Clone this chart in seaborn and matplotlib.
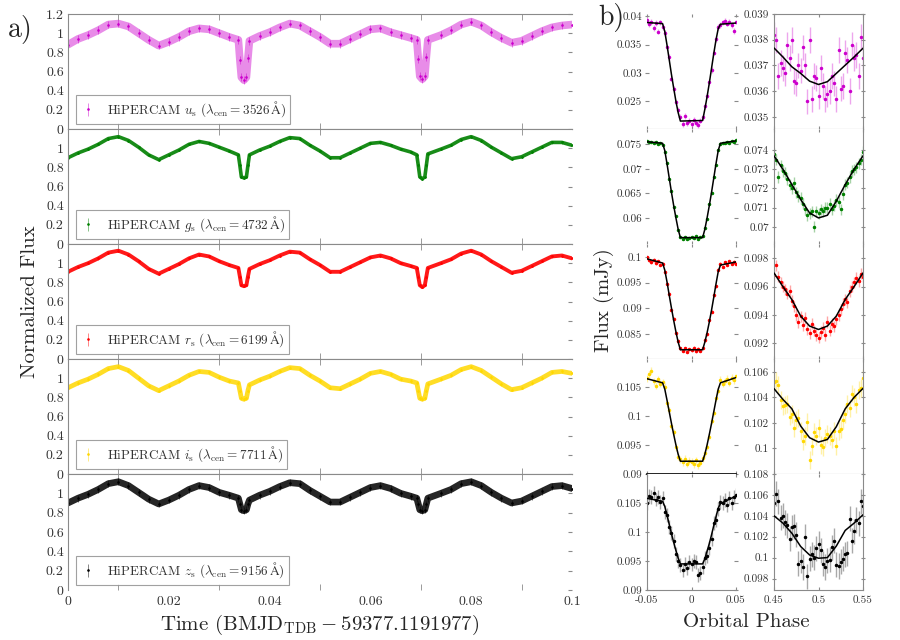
import numpy as np
import pandas as pd
import matplotlib
matplotlib.use("Agg")
import matplotlib.pyplot as plt
from matplotlib.ticker import FuncFormatter, FixedLocator
from matplotlib.colors import to_rgba
import seaborn as sns

# ------------------------------------------------------------------ data
bands = ["u", "g", "r", "i", "z"]
band_wave = [3526, 4732, 6199, 7711, 9156]
band_colors = ["#cc00cc", "#008000", "#ff0000", "#ffd700", "#000000"]

# panel a) normalised light curves
time = [0.000, 0.002, 0.004, 0.006, 0.008, 0.010, 0.012, 0.014, 0.016, 0.018, 0.020, 0.022, 0.024, 0.026, 0.028, 0.030, 0.032,
        0.0338, 0.0341, 0.0344, 0.0349, 0.0354, 0.0357, 0.0360,
        0.038, 0.040, 0.042, 0.044, 0.046, 0.048, 0.050, 0.052, 0.054, 0.056, 0.058, 0.060, 0.062, 0.064, 0.066, 0.068,
        0.0692, 0.0695, 0.0698, 0.0703, 0.0708, 0.0711, 0.0714,
        0.074, 0.076, 0.078, 0.080, 0.082, 0.084, 0.086, 0.088, 0.090, 0.092, 0.094, 0.096, 0.098, 0.100]
lc_u = [0.88, 0.94, 0.98, 1.03, 1.09, 1.10, 1.07, 1.00, 0.93, 0.87, 0.91, 0.96, 1.02, 1.05, 1.04, 1.00, 0.96,
        0.93, 0.72, 0.54, 0.51, 0.54, 0.74, 0.92,
        0.97, 1.01, 1.06, 1.10, 1.08, 1.02, 0.96, 0.89, 0.89, 0.94, 0.99, 1.04, 1.05, 1.01, 0.98, 0.95,
        0.93, 0.73, 0.55, 0.52, 0.55, 0.75, 0.93,
        0.98, 1.03, 1.09, 1.12, 1.08, 1.01, 0.95, 0.90, 0.92, 0.97, 1.02, 1.06, 1.08, 1.09]
lc_g = [0.90, 0.95, 0.99, 1.04, 1.10, 1.12, 1.08, 1.01, 0.93, 0.88, 0.93, 0.98, 1.04, 1.07, 1.05, 1.01, 0.97,
        0.93, 0.82, 0.70, 0.69, 0.70, 0.82, 0.93,
        0.98, 1.02, 1.07, 1.11, 1.10, 1.03, 0.97, 0.90, 0.90, 0.95, 1.00, 1.05, 1.06, 1.03, 0.99, 0.96,
        0.93, 0.82, 0.70, 0.68, 0.70, 0.82, 0.94,
        0.99, 1.03, 1.09, 1.12, 1.08, 1.01, 0.95, 0.89, 0.91, 0.96, 1.01, 1.06, 1.06, 1.03]
lc_r = [0.91, 0.96, 1.00, 1.05, 1.11, 1.13, 1.09, 1.02, 0.94, 0.89, 0.94, 0.99, 1.05, 1.09, 1.07, 1.02, 0.98,
        0.95, 0.86, 0.77, 0.76, 0.77, 0.86, 0.94,
        0.99, 1.03, 1.08, 1.12, 1.11, 1.04, 0.98, 0.91, 0.91, 0.96, 1.01, 1.06, 1.08, 1.05, 1.00, 0.97,
        0.95, 0.86, 0.77, 0.75, 0.77, 0.86, 0.95,
        1.00, 1.04, 1.10, 1.13, 1.09, 1.02, 0.96, 0.90, 0.92, 0.97, 1.02, 1.07, 1.08, 1.05]
lc_i = [0.90, 0.95, 0.99, 1.04, 1.10, 1.12, 1.08, 1.00, 0.92, 0.87, 0.92, 0.97, 1.03, 1.07, 1.06, 1.01, 0.97,
        0.95, 0.87, 0.79, 0.78, 0.79, 0.87, 0.93,
        0.98, 1.02, 1.07, 1.11, 1.10, 1.03, 0.97, 0.90, 0.89, 0.94, 0.99, 1.05, 1.07, 1.04, 0.99, 0.97,
        0.95, 0.87, 0.79, 0.78, 0.79, 0.87, 0.94,
        0.99, 1.03, 1.09, 1.12, 1.08, 1.01, 0.94, 0.88, 0.90, 0.95, 1.00, 1.06, 1.07, 1.05]
lc_z = [0.90, 0.95, 0.99, 1.04, 1.10, 1.12, 1.08, 1.01, 0.94, 0.89, 0.93, 0.98, 1.04, 1.08, 1.06, 1.01, 0.98,
        0.95, 0.89, 0.83, 0.82, 0.83, 0.89, 0.93,
        0.98, 1.02, 1.07, 1.11, 1.10, 1.03, 0.97, 0.91, 0.91, 0.96, 1.01, 1.06, 1.08, 1.05, 1.00, 0.97,
        0.95, 0.89, 0.83, 0.82, 0.83, 0.89, 0.95,
        1.00, 1.04, 1.10, 1.12, 1.08, 1.01, 0.95, 0.90, 0.92, 0.97, 1.02, 1.07, 1.08, 1.05]
lc_err = [0.04, 0.012, 0.012, 0.018, 0.035]

# panel b) primary eclipse (mJy)
ecl_phase = [-0.05, -0.0475, -0.045, -0.0425, -0.04, -0.0375, -0.035, -0.0325, -0.03, -0.0275, -0.025, -0.0225, -0.02,
             -0.0175, -0.015, -0.0125, -0.01, -0.0075, -0.005, -0.0025, 0.0, 0.0025, 0.005, 0.0075, 0.01, 0.0125, 0.015,
             0.0175, 0.02, 0.0225, 0.025, 0.0275, 0.03, 0.0325, 0.035, 0.0375, 0.04, 0.0425, 0.045, 0.0475, 0.05]
ecl_u = [0.0393, 0.0386, 0.0390, 0.0379, 0.0388, 0.0373, 0.0389, 0.0381, 0.0370, 0.0345, 0.0328, 0.0290, 0.0272, 0.0248,
         0.0235, 0.0222, 0.0210, 0.0224, 0.0211, 0.0216, 0.0209, 0.0217, 0.0212, 0.0208, 0.0216, 0.0222, 0.0242, 0.0260,
         0.0284, 0.0305, 0.0336, 0.0360, 0.0381, 0.0385, 0.0389, 0.0392, 0.0387, 0.0390, 0.0384, 0.0374, 0.0389]
ecl_g = [0.0756, 0.0754, 0.0755, 0.0752, 0.0754, 0.0751, 0.0753, 0.0749, 0.0735, 0.0712, 0.0679, 0.0655, 0.0622, 0.0603,
         0.0575, 0.0562, 0.0558, 0.0561, 0.0557, 0.0560, 0.0562, 0.0559, 0.0563, 0.0558, 0.0561, 0.0563, 0.0580, 0.0598,
         0.0628, 0.0650, 0.0684, 0.0708, 0.0739, 0.0750, 0.0753, 0.0752, 0.0754, 0.0753, 0.0756, 0.0755, 0.0758]
ecl_r = [0.0999, 0.0993, 0.0990, 0.0994, 0.0988, 0.0991, 0.0985, 0.0987, 0.0970, 0.0948, 0.0928, 0.0897, 0.0879, 0.0851,
         0.0836, 0.0822, 0.0817, 0.0822, 0.0815, 0.0820, 0.0818, 0.0823, 0.0816, 0.0821, 0.0817, 0.0823, 0.0838, 0.0849,
         0.0876, 0.0893, 0.0925, 0.0943, 0.0975, 0.0986, 0.0981, 0.0989, 0.0985, 0.0991, 0.0987, 0.0990, 0.0986]
ecl_i = [0.1065, 0.1072, 0.1078, 0.1060, 0.1052, 0.1063, 0.1055, 0.1058, 0.1050, 0.1022, 0.1010, 0.0983, 0.0972, 0.0946,
         0.0930, 0.0925, 0.0920, 0.0926, 0.0918, 0.0923, 0.0921, 0.0917, 0.0924, 0.0915, 0.0919, 0.0927, 0.0936, 0.0947,
         0.0964, 0.0992, 0.1005, 0.1031, 0.1043, 0.1062, 0.1055, 0.1060, 0.1064, 0.1057, 0.1066, 0.1061, 0.1068]
ecl_z = [0.1050, 0.1062, 0.1060, 0.1068, 0.1056, 0.1061, 0.1052, 0.1058, 0.1035, 0.1030, 0.1008, 0.0999, 0.0985, 0.0962,
         0.0950, 0.0943, 0.0935, 0.0945, 0.0938, 0.0948, 0.0944, 0.0950, 0.0948, 0.0926, 0.0929, 0.0940, 0.0955, 0.0958,
         0.0973, 0.0988, 0.1016, 0.1021, 0.1040, 0.1052, 0.1050, 0.1055, 0.1047, 0.1058, 0.1050, 0.1060, 0.1064]
ecl_err = [0.0005, 0.0002, 0.0003, 0.0006, 0.0012]

ecl_model_phase = [-0.05, -0.0325, -0.03, -0.0275, -0.025, -0.0225, -0.02, -0.0175, -0.015, -0.0125,
                   0.0125, 0.015, 0.0175, 0.02, 0.0225, 0.025, 0.0275, 0.03, 0.0325, 0.05]
ecl_model_u = [0.0389, 0.0387, 0.0373, 0.0349, 0.0323, 0.0297, 0.0273, 0.0250, 0.0230, 0.0215,
               0.0216, 0.0236, 0.0258, 0.0282, 0.0308, 0.0334, 0.0358, 0.0378, 0.0386, 0.0388]
ecl_model_g = [0.0755, 0.0752, 0.0737, 0.0710, 0.0681, 0.0652, 0.0625, 0.0600, 0.0577, 0.0560,
               0.0560, 0.0577, 0.0600, 0.0625, 0.0652, 0.0681, 0.0710, 0.0737, 0.0752, 0.0757]
ecl_model_r = [0.0996, 0.0988, 0.0974, 0.0951, 0.0925, 0.0900, 0.0876, 0.0854, 0.0834, 0.0819,
               0.0819, 0.0834, 0.0852, 0.0873, 0.0896, 0.0921, 0.0947, 0.0971, 0.0984, 0.0990]
ecl_model_i = [0.1064, 0.1057, 0.1046, 0.1027, 0.1007, 0.0987, 0.0968, 0.0950, 0.0934, 0.0922,
               0.0922, 0.0934, 0.0950, 0.0968, 0.0987, 0.1007, 0.1027, 0.1046, 0.1057, 0.1066]
ecl_model_z = [0.1058, 0.1053, 0.1044, 0.1029, 0.1013, 0.0997, 0.0982, 0.0968, 0.0955, 0.0945,
               0.0945, 0.0954, 0.0967, 0.0980, 0.0995, 0.1011, 0.1026, 0.1041, 0.1049, 0.1062]

# panel b) phase 0.5 (mJy)
sec_phase = [0.45, 0.4525, 0.455, 0.4575, 0.46, 0.4625, 0.465, 0.4675, 0.47, 0.4725, 0.475, 0.4775, 0.48, 0.4825,
             0.485, 0.4875, 0.49, 0.4925, 0.495, 0.4975, 0.5, 0.5025, 0.505, 0.5075, 0.51, 0.5125, 0.515, 0.5175,
             0.52, 0.5225, 0.525, 0.5275, 0.53, 0.5325, 0.535, 0.5375, 0.54, 0.5425, 0.545, 0.5475, 0.55]
sec_u = [0.0382, 0.0380, 0.0366, 0.0371, 0.0369, 0.0367, 0.0378, 0.0373, 0.0380, 0.0364, 0.0363, 0.0370, 0.0368, 0.0377,
         0.0370, 0.0356, 0.0380, 0.0357, 0.0366, 0.0365, 0.0358, 0.0369, 0.0362, 0.0357, 0.0359, 0.0360, 0.0366, 0.0363,
         0.0357, 0.0376, 0.0361, 0.0362, 0.0375, 0.0372, 0.0360, 0.0378, 0.0373, 0.0374, 0.0366, 0.0381, 0.0373]
sec_g = [0.0738, 0.0735, 0.0726, 0.0732, 0.0729, 0.0728, 0.0725, 0.0722, 0.0720, 0.0723, 0.0718, 0.0716, 0.0715, 0.0712,
         0.0709, 0.0706, 0.0707, 0.0708, 0.0700, 0.0708, 0.0707, 0.0709, 0.0708, 0.0710, 0.0710, 0.0712, 0.0709, 0.0711,
         0.0714, 0.0713, 0.0709, 0.0717, 0.0722, 0.0723, 0.0726, 0.0729, 0.0730, 0.0731, 0.0733, 0.0735, 0.0739]
sec_r = [0.0968, 0.0975, 0.0967, 0.0963, 0.0960, 0.0958, 0.0955, 0.0957, 0.0950, 0.0946, 0.0940, 0.0935, 0.0939, 0.0933,
         0.0938, 0.0930, 0.0927, 0.0934, 0.0929, 0.0926, 0.0924, 0.0928, 0.0931, 0.0926, 0.0935, 0.0929, 0.0934, 0.0932,
         0.0937, 0.0940, 0.0944, 0.0948, 0.0951, 0.0949, 0.0957, 0.0960, 0.0963, 0.0966, 0.0964, 0.0969, 0.0967]
sec_i = [0.1052, 0.1053, 0.1050, 0.1038, 0.1033, 0.1034, 0.1035, 0.1025, 0.1027, 0.1016, 0.1022, 0.1024, 0.1014, 0.1006,
         0.1010, 0.1021, 0.0991, 0.1002, 0.1013, 0.1010, 0.1016, 0.1003, 0.1001, 0.1008, 0.1011, 0.1010, 0.1007, 0.1014,
         0.1002, 0.1014, 0.1015, 0.1022, 0.1027, 0.1035, 0.1032, 0.1043, 0.1040, 0.1035, 0.1046, 0.1047, 0.1055]
sec_z = [0.1052, 0.1061, 0.1054, 0.1038, 0.1040, 0.1034, 0.1031, 0.1018, 0.1029, 0.1030, 0.1022, 0.0994, 0.0997, 0.0991,
         0.1020, 0.0982, 0.0999, 0.1003, 0.1000, 0.1009, 0.1013, 0.1007, 0.0994, 0.0991, 0.0997, 0.0998, 0.1010, 0.1016,
         0.0993, 0.0992, 0.0996, 0.0999, 0.1003, 0.1004, 0.1037, 0.1016, 0.1025, 0.1036, 0.1033, 0.1054, 0.1049]
sec_err = [0.0005, 0.0003, 0.0004, 0.0007, 0.0012]

sec_model_phase = [0.45, 0.46, 0.47, 0.48, 0.49, 0.50, 0.51, 0.52, 0.53, 0.54, 0.55]
sec_model_u = [0.03768, 0.03733, 0.03695, 0.03669, 0.03639, 0.03626, 0.03637, 0.03669, 0.03701, 0.03733, 0.03767]
sec_model_g = [0.0737, 0.0730, 0.07221, 0.07142, 0.07072, 0.07046, 0.0706, 0.07133, 0.0722, 0.0730, 0.0737]
sec_model_r = [0.09696, 0.0960, 0.09509, 0.09392, 0.09322, 0.09298, 0.09322, 0.09392, 0.09509, 0.0960, 0.09696]
sec_model_i = [0.10468, 0.10384, 0.10311, 0.10175, 0.10084, 0.1005, 0.1007, 0.1017, 0.1031, 0.1040, 0.1047]
sec_model_z = [0.1040, 0.1033, 0.10234, 0.10106, 0.10025, 0.09994, 0.1000, 0.1011, 0.1026, 0.1033, 0.1041]

lc_all = [lc_u, lc_g, lc_r, lc_i, lc_z]
ecl_all = [ecl_u, ecl_g, ecl_r, ecl_i, ecl_z]
ecl_model_all = [ecl_model_u, ecl_model_g, ecl_model_r, ecl_model_i, ecl_model_z]
sec_all = [sec_u, sec_g, sec_r, sec_i, sec_z]
sec_model_all = [sec_model_u, sec_model_g, sec_model_r, sec_model_i, sec_model_z]

ecl_ylim = [(0.0201, 0.0404), (0.0547, 0.0781), (0.0801, 0.1025), (0.0900, 0.1098), (0.0900, 0.1100)]
ecl_yticks = [[0.025, 0.03, 0.035, 0.04], [0.06, 0.065, 0.07, 0.075], [0.085, 0.09, 0.095, 0.1],
              [0.09, 0.095, 0.1, 0.105], [0.09, 0.095, 0.1, 0.105]]
sec_ylim = [(0.03453, 0.0390), (0.0691, 0.0751), (0.0909, 0.0990), (0.0980, 0.1070), (0.0969, 0.1080)]
sec_yticks = [[0.035, 0.036, 0.037, 0.038, 0.039], [0.07, 0.071, 0.072, 0.073, 0.074], [0.092, 0.094, 0.096, 0.098],
              [0.1, 0.102, 0.104, 0.106], [0.098, 0.1, 0.102, 0.104, 0.106, 0.108]]

# ------------------------------------------------------------------ style
sns.set_style("ticks")
plt.rcParams["font.family"] = ["cmr10", "DejaVu Serif"]
plt.rcParams["mathtext.fontset"] = "cm"
plt.rcParams["axes.unicode_minus"] = False

SPINE = "#8a8a8a"
TXT = "#333333"
fmt = FuncFormatter(lambda v, p: "%g" % round(v, 6))

W, H = 900, 640
fig = plt.figure(figsize=(W / 100, H / 100), dpi=100)


def px_axes(x0, y0, x1, y1):
    return fig.add_axes([x0 / W, 1 - y1 / H, (x1 - x0) / W, (y1 - y0) / H])


rows = [14, 129, 244, 359, 474, 590]
band_lw = [5.5, 2.6, 2.8, 3.4, 4.8]
band_alpha = [0.45, 0.9, 0.9, 0.85, 0.85]

# ------------------------------------------------------------------ panel a
for k, b in enumerate(bands):
    c = band_colors[k]
    ax = px_axes(68, rows[k], 572, rows[k + 1])
    df = pd.DataFrame({"t": time, "f": lc_all[k]})
    sns.lineplot(data=df, x="t", y="f", color=c, lw=band_lw[k], alpha=band_alpha[k],
                 estimator=None, sort=False, ax=ax)
    label = r"HiPERCAM $%s_\mathrm{s}$ ($\lambda_\mathrm{cen}=%d\,\mathrm{Å}$)" % (b, band_wave[k])
    ax.errorbar(time, lc_all[k], yerr=lc_err[k], fmt="o", ms=0.9, color=c,
                ecolor=to_rgba(c, 0.55), elinewidth=0.6, capsize=0, label=label)
    ax.set_xlim(0, 0.1)
    ax.set_ylim(0, 1.2)
    ax.set_xlabel("")
    ax.set_ylabel("")
    ax.set_yticks([0, 0.2, 0.4, 0.6, 0.8, 1.0, 1.2] if k == 0 else [0, 0.2, 0.4, 0.6, 0.8, 1.0])
    ax.yaxis.set_major_formatter(fmt)
    ax.tick_params(axis="y", left=False, right=True, labelleft=True, labelright=False,
                   direction="in", length=3, color=SPINE, labelsize=10, labelcolor=TXT, pad=3)
    ax.set_xticks([0, 0.02, 0.04, 0.06, 0.08, 0.1])
    ax.xaxis.set_major_formatter(fmt)
    ax.xaxis.set_minor_locator(FixedLocator([0.01, 0.03, 0.05, 0.06, 0.07, 0.09]))
    ax.tick_params(axis="x", which="major", length=0, labelsize=10, labelcolor=TXT,
                   labelbottom=(k == 4), pad=4)
    ax.tick_params(axis="x", which="minor", top=True, bottom=True, direction="in",
                   length=4, color=SPINE)
    for s in ax.spines.values():
        s.set_color(SPINE)
        s.set_linewidth(0.8)
    ax.spines["right"].set_visible(False)
    if k == 4:
        ax.spines["bottom"].set_visible(False)
    leg = ax.legend(loc="lower left", bbox_to_anchor=(0.015, 0.045), frameon=True, fancybox=False,
                    edgecolor=SPINE, fontsize=9.5, handlelength=1.2, handletextpad=0.8,
                    borderpad=0.35, borderaxespad=0.0)
    leg.get_frame().set_linewidth(0.8)
    for t in leg.get_texts():
        t.set_color(TXT)

# ------------------------------------------------------------------ panel b
for k, b in enumerate(bands):
    c = band_colors[k]
    ecol = to_rgba(c, 0.35) if k != 4 else to_rgba("#555555", 0.5)
    for col in range(2):
        if col == 0:
            ax = px_axes(647, rows[k], 736, rows[k + 1])
            ph, fl, err = ecl_phase, ecl_all[k], ecl_err[k]
            mph, mfl = ecl_model_phase, ecl_model_all[k]
            xlim, ylim, yt, xt = (-0.05, 0.05), ecl_ylim[k], ecl_yticks[k], [-0.05, 0, 0.05]
        else:
            ax = px_axes(774, rows[k], 863, rows[k + 1])
            ph, fl, err = sec_phase, sec_all[k], sec_err[k]
            mph, mfl = sec_model_phase, sec_model_all[k]
            xlim, ylim, yt, xt = (0.45, 0.55), sec_ylim[k], sec_yticks[k], [0.45, 0.5, 0.55]
        ax.errorbar(ph, fl, yerr=err, fmt="o", ms=1.5, color=c, ecolor=ecol,
                    elinewidth=1.0, capsize=0, zorder=2)
        sns.lineplot(x=mph, y=mfl, color="black", lw=1.1, estimator=None, sort=False, ax=ax, zorder=3)
        ax.set_xlim(*xlim)
        ax.set_ylim(*ylim)
        ax.set_xlabel("")
        ax.set_ylabel("")
        ax.set_yticks(yt)
        ax.yaxis.set_major_formatter(fmt)
        ax.set_xticks(xt)
        ax.xaxis.set_major_formatter(fmt)
        ax.tick_params(axis="y", left=True, right=True, direction="inout", length=3,
                       color=SPINE, labelsize=8, labelcolor=TXT, pad=2)
        ax.tick_params(axis="x", top=True, bottom=True, direction="in", length=2.5,
                       color=SPINE, labelsize=8, labelcolor=TXT, labelbottom=(k == 4), pad=4)
        for s in ax.spines.values():
            s.set_color(SPINE)
            s.set_linewidth(0.8)
        if col == 0:
            ax.spines["top"].set_visible(False)
            ax.spines["right"].set_visible(False)
            ax.spines["left"].set_visible(k == 4)
            ax.spines["bottom"].set_visible(k != 1)
            if k == 3:
                ax.spines["bottom"].set_color("black")
                ax.spines["bottom"].set_linewidth(1.2)
        else:
            ax.spines["top"].set_visible(k == 0)
            ax.spines["bottom"].set_visible(k != 1)

# ------------------------------------------------------------------ labels
fig.text(8 / W, 1 - 30 / H, "a)", fontsize=20, ha="left", va="center")
fig.text(598 / W, 1 - 18 / H, "b)", fontsize=20, ha="left", va="center")
fig.text(30 / W, 1 - 302 / H, "Normalized Flux", fontsize=15, rotation=90, ha="center", va="center")
fig.text(320 / W, 1 - 625 / H, r"Time (BMJD$_{\mathrm{TDB}}-59377.1191977$)", fontsize=15,
         ha="center", va="center")
fig.text(604 / W, 1 - 300 / H, "Flux (mJy)", fontsize=15, rotation=90, ha="center", va="center")
fig.text(746 / W, 1 - 622 / H, "Orbital Phase", fontsize=15, ha="center", va="center")

fig.savefig("out.png", dpi=100)
